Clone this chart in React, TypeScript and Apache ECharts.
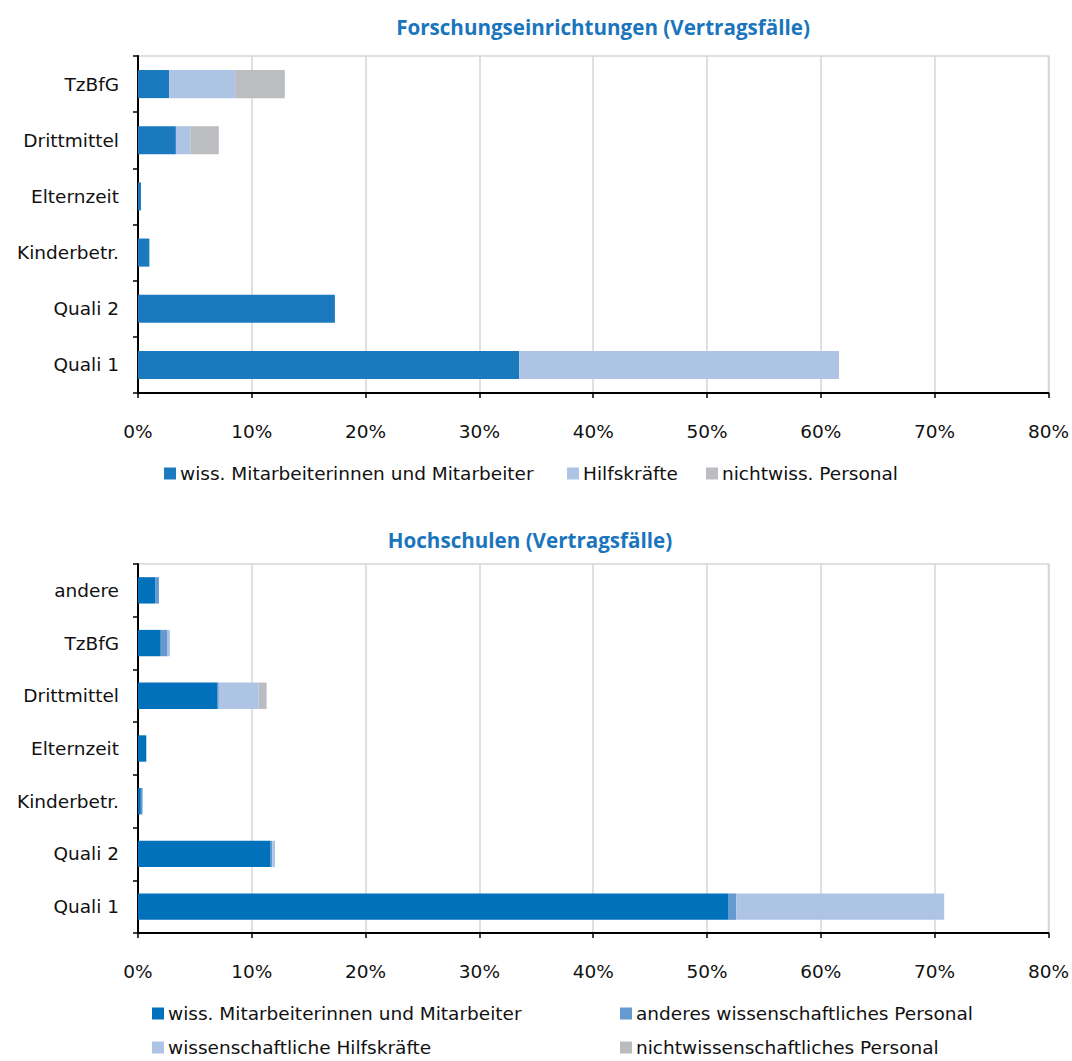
import React, { useEffect, useRef } from "react";
import * as echarts from "echarts";

const topCategories = ["Quali 1", "Quali 2", "Kinderbetr.", "Elternzeit", "Drittmittel", "TzBfG"];
const topWiss = [33.5, 17.3, 1.0, 0.26, 3.33, 2.75];
const topHilfskraefte = [28.1, 0, 0, 0, 1.27, 5.85];
const topNichtwiss = [0, 0, 0, 0, 2.5, 4.3];

const botCategories = ["Quali 1", "Quali 2", "Kinderbetr.", "Elternzeit", "Drittmittel", "TzBfG", "andere"];
const botWiss = [51.9, 11.66, 0.25, 0.73, 7.0, 2.0, 1.5];
const botAnderes = [0.67, 0.14, 0.15, 0, 0.1, 0.6, 0.34];
const botHilfskraefte = [18.27, 0.24, 0, 0, 3.5, 0.2, 0];
const botNichtwiss = [0, 0, 0, 0, 0.7, 0, 0];

const xTicks = [0, 10, 20, 30, 40, 50, 60, 70, 80];

const topNames = ["wiss. Mitarbeiterinnen und Mitarbeiter", "Hilfskräfte", "nichtwiss. Personal"];
const botNames = [
  "wiss. Mitarbeiterinnen und Mitarbeiter",
  "anderes wissenschaftliches Personal",
  "wissenschaftliche Hilfskräfte",
  "nichtwissenschaftliches Personal",
];

const topColors = ["#1B7ABE", "#AEC4E5", "#BCBDC1"];
const botColors = ["#0071BA", "#6699D0", "#AEC4E5", "#BBBCC0"];

const FONT = "DejaVu Sans";
const TITLE_FONT = "Open Sans";
const FS = 18.5;

export default function App() {
  const ref = useRef<HTMLDivElement>(null);
  useEffect(() => {
    document.body.style.margin = "0";
    const chart = echarts.init(ref.current!, null, { renderer: "svg" });
    const xAxisBase = (gridIndex: number) => ({
      type: "value",
      gridIndex,
      min: 0,
      max: 80,
      interval: 10,
      axisLine: { show: true, lineStyle: { color: "#000", width: 2 } },
      axisTick: { show: true, length: 5, lineStyle: { color: "#000", width: 1.5 } },
      axisLabel: {
        margin: 29,
        fontFamily: FONT,
        fontSize: FS,
        color: "#111",
        formatter: (v: number) => (xTicks.includes(v) ? v + "%" : ""),
      },
      splitLine: { show: true, lineStyle: { color: "#d6d6d6", width: 1.5 } },
    });
    const yAxisBase = (gridIndex: number, data: string[]) => ({
      type: "category",
      gridIndex,
      data,
      axisLine: { show: true, lineStyle: { color: "#000", width: 2 } },
      axisTick: { show: true, length: 5, lineStyle: { color: "#000", width: 1.5 } },
      axisLabel: { margin: 19, fontFamily: FONT, fontSize: FS, color: "#111" },
      splitLine: { show: false },
    });
    const bar = (name: string, data: number[], color: string, x: number, y: number) => ({
      name,
      type: "bar",
      stack: "s" + x,
      xAxisIndex: x,
      yAxisIndex: y,
      data,
      barWidth: "50%",
      itemStyle: { color },
    });
    const legendItem = (name: string, color: string, left: number, top: number) => ({
      left,
      top,
      orient: "horizontal",
      itemWidth: 12,
      itemHeight: 12,
      itemGap: 6,
      icon: "rect",
      selectedMode: false,
      textStyle: { fontFamily: FONT, fontSize: FS, color: "#111", padding: [0, 0, 0, -1] },
      data: [{ name, itemStyle: { color } }],
    });
    chart.setOption({
      animation: false,
      backgroundColor: "#fff",
      grid: [
        { left: 138, width: 912, top: 56, height: 337, show: true, borderColor: "#d6d6d6", borderWidth: 1.5 },
        { left: 138, width: 912, top: 564, height: 369, show: true, borderColor: "#d6d6d6", borderWidth: 1.5 },
      ],
      xAxis: [xAxisBase(0), xAxisBase(1)],
      yAxis: [yAxisBase(0, topCategories), yAxisBase(1, botCategories)],
      legend: [
        legendItem(topNames[0], topColors[0], 159, 459),
        legendItem(topNames[1], topColors[1], 562, 459),
        legendItem(topNames[2], topColors[2], 701, 459),
        legendItem(botNames[0], botColors[0], 147, 999),
        legendItem(botNames[1], botColors[1], 615, 999),
        legendItem(botNames[2], botColors[2], 147, 1033),
        legendItem(botNames[3], botColors[3], 615, 1033),
      ],
      graphic: [
        {
          type: "text",
          x: 603,
          y: 27,
          style: {
            text: "Forschungseinrichtungen (Vertragsfälle)",
            fill: "#1B75BC",
            font: `bold 20.6px '${TITLE_FONT}'`,
            align: "center",
            verticalAlign: "middle",
          },
        },
        {
          type: "text",
          x: 530,
          y: 540,
          style: {
            text: "Hochschulen (Vertragsfälle)",
            fill: "#1B75BC",
            font: `bold 20.6px '${TITLE_FONT}'`,
            align: "center",
            verticalAlign: "middle",
          },
        },
      ],
      series: [
        bar(topNames[0], topWiss, topColors[0], 0, 0),
        bar(topNames[1], topHilfskraefte, topColors[1], 0, 0),
        bar(topNames[2], topNichtwiss, topColors[2], 0, 0),
        bar(botNames[0], botWiss, botColors[0], 1, 1),
        bar(botNames[1], botAnderes, botColors[1], 1, 1),
        bar(botNames[2], botHilfskraefte, botColors[2], 1, 1),
        bar(botNames[3], botNichtwiss, botColors[3], 1, 1),
      ],
    });
    return () => chart.dispose();
  }, []);
  return <div ref={ref} style={{ width: 1072, height: 1061 }} />;
}
